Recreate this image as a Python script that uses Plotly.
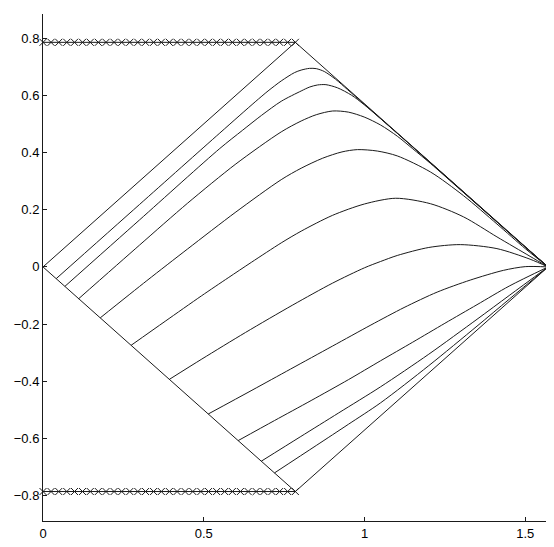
import plotly.graph_objects as go

# ---- data ----
# outer diamond (0,0) -> (pi/4, pi/4) -> (pi/2, 0) -> (pi/4, -pi/4) -> (0,0)
edge_x = [0.0, 0.785, 1.571, 0.785, 0.0]
edge_y = [0.0, 0.785, 0.0, -0.785, 0.0]

# crosses along y = +/- pi/4
cross_x = [0.0, 0.025, 0.049, 0.074, 0.098, 0.123, 0.147, 0.172, 0.196, 0.221,
           0.245, 0.270, 0.295, 0.319, 0.344, 0.368, 0.393, 0.417, 0.442, 0.466,
           0.491, 0.515, 0.540, 0.565, 0.589, 0.614, 0.638, 0.663, 0.687, 0.712,
           0.736, 0.761, 0.785]
cross_top = 0.785
cross_bottom = -0.785

c1_x = [0.041, 0.30, 0.55, 0.66, 0.70, 0.741, 0.782, 0.803, 0.829, 0.85, 0.875,
        0.91, 0.947, 1.0, 1.10, 1.25, 1.40, 1.50, 1.571]
c1_y = [-0.041, 0.218, 0.468, 0.577, 0.615, 0.650, 0.679, 0.688, 0.694, 0.693,
        0.683, 0.656, 0.620, 0.568, 0.469, 0.320, 0.170, 0.070, 0.0]

c2_x = [0.068, 0.30, 0.55, 0.62, 0.68, 0.741, 0.803, 0.83, 0.854, 0.88, 0.916,
        0.96, 0.999, 1.10, 1.25, 1.40, 1.50, 1.571]
c2_y = [-0.068, 0.164, 0.414, 0.477, 0.530, 0.579, 0.615, 0.629, 0.636, 0.637,
        0.626, 0.600, 0.567, 0.469, 0.319, 0.169, 0.069, 0.0]

c3_x = [0.111, 0.30, 0.45, 0.60, 0.741, 0.803, 0.85, 0.901, 0.95, 0.999, 1.05,
        1.102, 1.15, 1.205, 1.30, 1.42, 1.50, 1.571]
c3_y = [-0.111, 0.076, 0.223, 0.360, 0.472, 0.510, 0.532, 0.545, 0.541, 0.524,
        0.496, 0.457, 0.413, 0.362, 0.268, 0.149, 0.070, 0.0]

c4_x = [0.178, 0.323, 0.45, 0.60, 0.741, 0.803, 0.87, 0.93, 0.978, 1.04, 1.102,
        1.205, 1.308, 1.412, 1.50, 1.571]
c4_y = [-0.178, -0.048, 0.063, 0.192, 0.305, 0.345, 0.380, 0.402, 0.410, 0.405,
        0.388, 0.332, 0.249, 0.150, 0.064, 0.0]

c5_x = [0.274, 0.38, 0.493, 0.576, 0.648, 0.741, 0.803, 0.90, 1.0, 1.097, 1.205,
        1.308, 1.412, 1.515, 1.571]
c5_y = [-0.274, -0.190, -0.101, -0.038, 0.016, 0.084, 0.125, 0.180, 0.220, 0.240,
        0.221, 0.175, 0.105, 0.037, 0.0]

c6_x = [0.393, 0.494, 0.63, 0.777, 0.90, 1.0, 1.05, 1.102, 1.20, 1.298, 1.412,
        1.515, 1.571]
c6_y = [-0.393, -0.322, -0.229, -0.133, -0.057, -0.003, 0.019, 0.040, 0.068,
        0.078, 0.064, 0.027, 0.0]

c7_x = [0.514, 0.65, 0.77, 0.90, 1.02, 1.123, 1.226, 1.329, 1.432, 1.50, 1.571]
c7_y = [-0.514, -0.431, -0.357, -0.277, -0.203, -0.142, -0.088, -0.046, -0.012,
        0.001, 0.0]

c8_x = [0.607, 0.72, 0.834, 0.95, 1.05, 1.15, 1.25, 1.35, 1.45, 1.571]
c8_y = [-0.607, -0.537, -0.467, -0.394, -0.328, -0.263, -0.197, -0.132, -0.067, 0.0]

c9_x = [0.679, 0.80, 0.92, 1.05, 1.20, 1.35, 1.45, 1.571]
c9_y = [-0.679, -0.594, -0.510, -0.419, -0.305, -0.183, -0.100, 0.0]

c10_x = [0.720, 0.85, 0.95, 1.05, 1.20, 1.35, 1.45, 1.571]
c10_y = [-0.720, -0.624, -0.550, -0.475, -0.345, -0.207, -0.113, 0.0]

x_ticks = [0, 0.5, 1, 1.5]
x_tick_text = ["0", "0.5", "1", "1.5"]
y_ticks = [-0.8, -0.6, -0.4, -0.2, 0, 0.2, 0.4, 0.6, 0.8]
y_tick_text = ["\u22120.8", "\u22120.6", "\u22120.4", "\u22120.2", "0",
               "0.2", "0.4", "0.6", "0.8"]

INK = "#1a1a1a"

fig = go.Figure()

curves = [(c1_x, c1_y), (c2_x, c2_y), (c3_x, c3_y), (c4_x, c4_y), (c5_x, c5_y),
          (c6_x, c6_y), (c7_x, c7_y), (c8_x, c8_y), (c9_x, c9_y), (c10_x, c10_y)]
for cx, cy in curves:
    fig.add_trace(go.Scatter(
        x=cx, y=cy, mode="lines",
        line=dict(color=INK, width=1, shape="spline", smoothing=0.8),
        hoverinfo="skip",
    ))

fig.add_trace(go.Scatter(
    x=edge_x, y=edge_y, mode="lines",
    line=dict(color=INK, width=1), hoverinfo="skip",
))

for cy in (cross_top, cross_bottom):
    fig.add_trace(go.Scatter(
        x=cross_x, y=[cy] * len(cross_x), mode="lines+markers",
        line=dict(color=INK, width=1),
        marker=dict(symbol="x-thin", size=7, line=dict(color=INK, width=1)),
        cliponaxis=False, hoverinfo="skip",
    ))

axis_common = dict(
    showline=True, linecolor=INK, linewidth=1,
    ticks="inside", ticklen=4, tickcolor=INK, tickwidth=1,
    showgrid=False, zeroline=False, mirror=False,
    tickfont=dict(family="Liberation Sans, Arial, sans-serif", size=13, color="black"),
)

# the page body adds an 8px offset, so the figure is 8px smaller and margins shifted
fig.update_layout(
    width=546, height=539,
    margin=dict(l=33, r=6, t=6, b=25),
    paper_bgcolor="white", plot_bgcolor="white",
    showlegend=False,
    xaxis=dict(range=[0, 1.5708], tickvals=x_ticks, ticktext=x_tick_text, **axis_common),
    yaxis=dict(range=[-0.888, 0.884], tickvals=y_ticks, ticktext=y_tick_text, **axis_common),
)

fig.write_html("out.html")
